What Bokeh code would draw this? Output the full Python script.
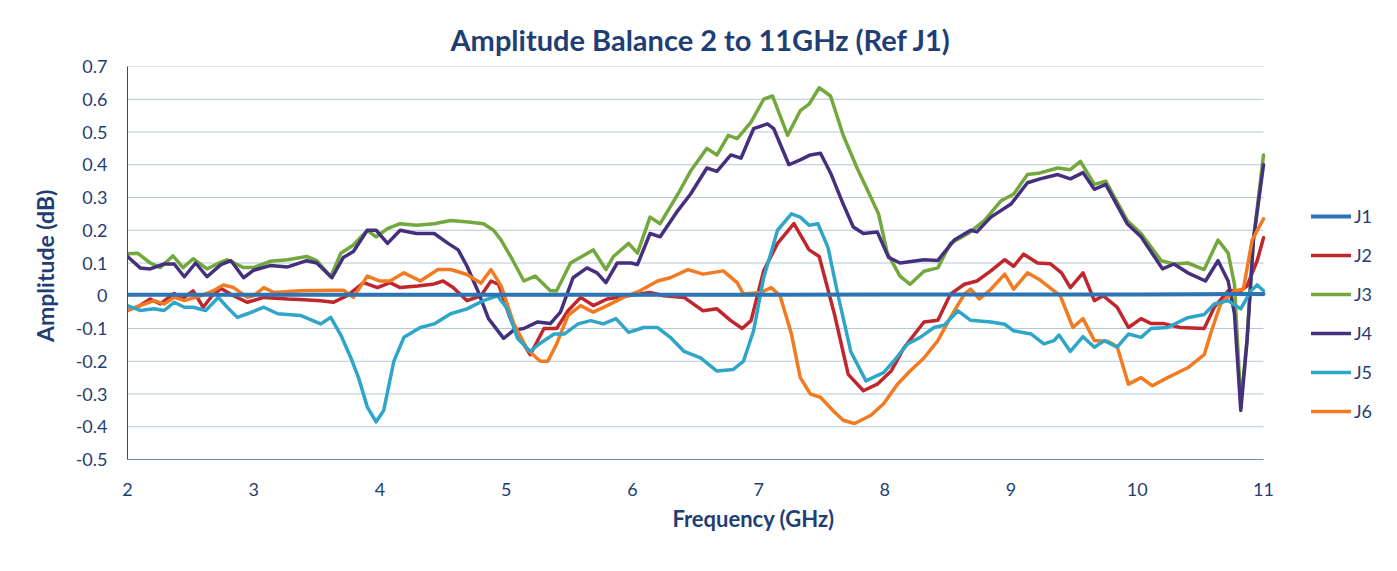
from bokeh.plotting import figure
from bokeh.models import Range1d, FixedTicker, CustomJSTickFormatter, Legend, LegendItem
from bokeh.embed import file_html
from bokeh.resources import INLINE

# ---------------- data ----------------
j1_f = [2.0, 3.0, 4.0, 5.0, 6.0, 7.0, 8.0, 9.0, 10.0, 10.8, 10.9, 11.0]
j1_v = [0.003, 0.003, 0.003, 0.003, 0.003, 0.003, 0.004, 0.004, 0.004, 0.005, 0.005, 0.005]

j2_f = [2.0, 2.1, 2.18, 2.26, 2.37, 2.43, 2.52, 2.6, 2.67, 2.74, 2.84, 2.95, 3.08, 3.27, 3.4, 3.53,
        3.63, 3.74, 3.87, 3.98, 4.08, 4.16, 4.3, 4.43, 4.5, 4.58, 4.69, 4.8, 4.88, 4.94, 5.03, 5.09,
        5.19, 5.3, 5.4, 5.49, 5.59, 5.69, 5.8, 5.96, 6.14, 6.25, 6.41, 6.56, 6.67, 6.78, 6.87, 6.94,
        7.04, 7.15, 7.28, 7.4, 7.48, 7.6, 7.71, 7.83, 7.94, 8.05, 8.15, 8.31, 8.42, 8.52, 8.63, 8.73,
        8.84, 8.95, 9.02, 9.1, 9.21, 9.31, 9.4, 9.47, 9.57, 9.66, 9.73, 9.84, 9.93, 10.03, 10.11,
        10.21, 10.34, 10.53, 10.61, 10.72, 10.82, 10.87, 10.95, 11.0]
j2_v = [-0.045, -0.03, -0.01, -0.025, 0.007, -0.01, 0.015, -0.035, 0.0, 0.022, 0.0, -0.02, -0.005,
        -0.01, -0.012, -0.015, -0.02, 0.0, 0.04, 0.025, 0.04, 0.025, 0.03, 0.036, 0.045, 0.025,
        -0.015, 0.0, 0.045, 0.035, -0.067, -0.117, -0.18, -0.1, -0.1, -0.046, -0.005, -0.03, -0.01,
        0.0, 0.01, 0.0, -0.005, -0.046, -0.04, -0.076, -0.1, -0.076, 0.076, 0.16, 0.22, 0.14, 0.12,
        -0.055, -0.24, -0.29, -0.27, -0.23, -0.16, -0.08, -0.075, 0.005, 0.035, 0.045, 0.076, 0.11,
        0.09, 0.127, 0.1, 0.098, 0.07, 0.025, 0.07, -0.015, 0.0, -0.035, -0.097, -0.07, -0.085,
        -0.085, -0.097, -0.1, -0.035, 0.015, 0.015, 0.03, 0.107, 0.177]

j3_f = [2.0, 2.08, 2.18, 2.26, 2.36, 2.44, 2.52, 2.63, 2.71, 2.79, 2.92, 3.0, 3.13, 3.27, 3.42, 3.5,
        3.61, 3.69, 3.79, 3.9, 3.97, 4.06, 4.16, 4.29, 4.43, 4.56, 4.7, 4.82, 4.9, 4.96, 5.05, 5.14,
        5.23, 5.35, 5.4, 5.51, 5.69, 5.79, 5.85, 5.97, 6.04, 6.14, 6.22, 6.36, 6.46, 6.59, 6.67, 6.76,
        6.83, 6.94, 7.04, 7.11, 7.23, 7.33, 7.4, 7.48, 7.57, 7.67, 7.78, 7.89, 7.95, 8.02, 8.12, 8.2,
        8.31, 8.42, 8.52, 8.66, 8.79, 8.92, 9.02, 9.13, 9.23, 9.37, 9.47, 9.55, 9.66, 9.75, 9.92,
        10.03, 10.19, 10.29, 10.4, 10.53, 10.64, 10.72, 10.77, 10.82, 10.87, 10.92, 11.0]
j3_v = [0.128, 0.13, 0.1, 0.086, 0.122, 0.086, 0.113, 0.082, 0.097, 0.11, 0.086, 0.086, 0.105, 0.11,
        0.12, 0.107, 0.058, 0.13, 0.155, 0.2, 0.18, 0.205, 0.22, 0.215, 0.22, 0.23, 0.225, 0.22, 0.2,
        0.17, 0.11, 0.045, 0.06, 0.015, 0.015, 0.1, 0.14, 0.08, 0.12, 0.16, 0.13, 0.24, 0.22, 0.31,
        0.38, 0.45, 0.43, 0.49, 0.48, 0.53, 0.6, 0.61, 0.49, 0.565, 0.585, 0.635, 0.61, 0.49, 0.39,
        0.3, 0.25, 0.13, 0.06, 0.035, 0.075, 0.085, 0.16, 0.19, 0.23, 0.29, 0.31, 0.37, 0.375, 0.39,
        0.385, 0.41, 0.34, 0.35, 0.23, 0.19, 0.107, 0.097, 0.1, 0.08, 0.17, 0.13, 0.035, -0.33,
        -0.13, 0.17, 0.43]

j4_f = [2.0, 2.1, 2.18, 2.29, 2.37, 2.45, 2.54, 2.63, 2.74, 2.82, 2.92, 3.0, 3.13, 3.27, 3.42, 3.5,
        3.62, 3.71, 3.79, 3.9, 3.97, 4.06, 4.16, 4.29, 4.43, 4.54, 4.62, 4.69, 4.77, 4.86, 4.98, 5.06,
        5.14, 5.25, 5.35, 5.43, 5.53, 5.64, 5.72, 5.79, 5.88, 5.99, 6.04, 6.14, 6.22, 6.36, 6.46, 6.59,
        6.67, 6.78, 6.86, 6.96, 7.07, 7.12, 7.24, 7.33, 7.41, 7.49, 7.57, 7.67, 7.75, 7.83, 7.94, 8.03,
        8.12, 8.31, 8.42, 8.55, 8.68, 8.73, 8.84, 9.0, 9.13, 9.23, 9.37, 9.47, 9.57, 9.66, 9.75, 9.92,
        10.03, 10.2, 10.29, 10.4, 10.54, 10.64, 10.72, 10.77, 10.82, 10.87, 10.92, 11.0]
j4_v = [0.12, 0.085, 0.082, 0.097, 0.097, 0.058, 0.1, 0.058, 0.095, 0.107, 0.055, 0.078, 0.092, 0.088,
        0.107, 0.1, 0.055, 0.117, 0.135, 0.2, 0.2, 0.16, 0.2, 0.19, 0.19, 0.16, 0.14, 0.09, 0.02, -0.07,
        -0.13, -0.105, -0.1, -0.08, -0.085, -0.05, 0.055, 0.085, 0.07, 0.04, 0.1, 0.1, 0.095, 0.19,
        0.18, 0.26, 0.31, 0.39, 0.38, 0.43, 0.42, 0.51, 0.525, 0.51, 0.4, 0.415, 0.43, 0.435, 0.375,
        0.28, 0.21, 0.19, 0.195, 0.117, 0.1, 0.11, 0.108, 0.17, 0.2, 0.195, 0.24, 0.28, 0.345, 0.357,
        0.37, 0.357, 0.376, 0.325, 0.34, 0.22, 0.18, 0.082, 0.097, 0.07, 0.045, 0.107, 0.045, -0.055,
        -0.35, -0.137, 0.17, 0.4]

j5_f = [2.0, 2.1, 2.21, 2.29, 2.37, 2.45, 2.52, 2.62, 2.72, 2.79, 2.87, 2.95, 3.08, 3.19, 3.37, 3.53,
        3.61, 3.69, 3.77, 3.83, 3.9, 3.97, 4.03, 4.11, 4.19, 4.32, 4.43, 4.56, 4.69, 4.82, 4.93, 5.01,
        5.09, 5.19, 5.27, 5.38, 5.46, 5.57, 5.67, 5.77, 5.87, 5.97, 6.09, 6.2, 6.3, 6.41, 6.54, 6.67,
        6.8, 6.88, 6.96, 7.04, 7.15, 7.26, 7.33, 7.4, 7.47, 7.55, 7.63, 7.73, 7.85, 7.99, 8.07, 8.18,
        8.28, 8.39, 8.47, 8.58, 8.68, 8.84, 8.95, 9.02, 9.16, 9.26, 9.34, 9.38, 9.47, 9.57, 9.66, 9.74,
        9.84, 9.93, 10.03, 10.11, 10.24, 10.4, 10.53, 10.61, 10.72, 10.82, 10.9, 10.95, 11.0]
j5_v = [-0.03, -0.045, -0.04, -0.045, -0.02, -0.035, -0.035, -0.045, -0.005, -0.035, -0.066, -0.055,
        -0.035, -0.055, -0.06, -0.086, -0.066, -0.12, -0.19, -0.25, -0.34, -0.385, -0.35, -0.2,
        -0.127, -0.097, -0.086, -0.055, -0.04, -0.015, 0.0, -0.04, -0.13, -0.17, -0.145, -0.117,
        -0.117, -0.086, -0.076, -0.086, -0.07, -0.112, -0.097, -0.097, -0.127, -0.17, -0.19, -0.23,
        -0.225, -0.2, -0.107, 0.055, 0.2, 0.25, 0.24, 0.215, 0.22, 0.147, 0.0, -0.17, -0.26, -0.235,
        -0.2, -0.147, -0.127, -0.097, -0.09, -0.046, -0.075, -0.08, -0.087, -0.107, -0.117, -0.147,
        -0.137, -0.12, -0.17, -0.125, -0.157, -0.137, -0.157, -0.117, -0.127, -0.1, -0.097, -0.067,
        -0.057, -0.025, -0.015, -0.04, 0.015, 0.033, 0.015]

j6_f = [2.0, 2.1, 2.21, 2.29, 2.37, 2.45, 2.58, 2.68, 2.76, 2.84, 2.95, 3.0, 3.08, 3.16, 3.37, 3.63,
        3.71, 3.79, 3.9, 4.0, 4.08, 4.19, 4.32, 4.46, 4.56, 4.69, 4.8, 4.88, 4.96, 5.06, 5.17, 5.27,
        5.33, 5.4, 5.49, 5.59, 5.69, 5.8, 5.93, 6.06, 6.2, 6.3, 6.44, 6.56, 6.72, 6.83, 6.88, 7.02,
        7.1, 7.17, 7.26, 7.33, 7.41, 7.49, 7.6, 7.67, 7.76, 7.89, 7.99, 8.1, 8.2, 8.31, 8.42, 8.52,
        8.63, 8.68, 8.75, 8.84, 8.95, 9.02, 9.13, 9.23, 9.34, 9.39, 9.49, 9.57, 9.66, 9.77, 9.84,
        9.93, 10.03, 10.12, 10.24, 10.4, 10.53, 10.58, 10.66, 10.77, 10.84, 10.91, 11.0]
j6_v = [-0.045, -0.03, -0.015, -0.025, -0.005, -0.015, 0.0, 0.015, 0.033, 0.025, -0.005, 0.0, 0.025,
        0.01, 0.015, 0.017, 0.017, -0.005, 0.06, 0.045, 0.045, 0.07, 0.045, 0.08, 0.08, 0.065, 0.038,
        0.08, 0.03, -0.085, -0.165, -0.2, -0.2, -0.147, -0.06, -0.03, -0.05, -0.03, -0.005, 0.015,
        0.045, 0.055, 0.08, 0.066, 0.076, 0.04, 0.005, 0.01, 0.025, 0.0, -0.117, -0.25, -0.3, -0.31,
        -0.355, -0.38, -0.39, -0.365, -0.33, -0.27, -0.23, -0.19, -0.137, -0.066, 0.005, 0.02, -0.01,
        0.02, 0.066, 0.02, 0.07, 0.048, 0.015, 0.0, -0.097, -0.07, -0.137, -0.14, -0.155, -0.27, -0.25,
        -0.275, -0.25, -0.22, -0.18, -0.117, -0.025, 0.015, 0.02, 0.17, 0.235]

series_names = ["J1", "J2", "J3", "J4", "J5", "J6"]
series_colors = ["#2E74B5", "#C0262D", "#72A83C", "#45307D", "#2FA6C8", "#F27B21"]
y_ticks = [-0.5, -0.4, -0.3, -0.2, -0.1, 0.0, 0.1, 0.2, 0.3, 0.4, 0.5, 0.6, 0.7]
x_ticks = [2, 3, 4, 5, 6, 7, 8, 9, 10, 11]
x_min, x_max = 2, 11
y_min, y_max = -0.5, 0.7

TEXT = "#1F3E74"
FONT = "Lato"

# layout: data area 1136 px wide for 2..11 GHz, extra room on the right for the legend
DATA_W = 1136
FRAME_W = 1252
x_end = x_min + (x_max - x_min) * FRAME_W / DATA_W

p = figure(frame_width=FRAME_W, frame_height=393, output_backend="svg", toolbar_location=None,
           x_range=Range1d(x_min, x_end), y_range=Range1d(y_min, y_max),
           min_border_left=127, min_border_right=10, min_border_top=66, min_border_bottom=104,
           title="Amplitude Balance 2 to 11GHz (Ref J1)")
p.background_fill_color = "white"
p.border_fill_color = "white"
p.outline_line_color = None

p.title.align = "left"
p.title.offset = 323
p.title.text_font = FONT
p.title.text_font_size = "29px"
p.title.text_font_style = "bold"
p.title.text_color = TEXT
p.title.standoff = 19

p.xgrid.grid_line_color = None
p.ygrid.grid_line_color = None
# horizontal grid lines limited to the data area (2..11 GHz)
p.segment(x0=[x_min] * len(y_ticks), x1=[x_max] * len(y_ticks), y0=y_ticks, y1=y_ticks,
          line_color="#B7C7D6", line_width=1)

p.yaxis.ticker = FixedTicker(ticks=y_ticks)
p.xaxis.ticker = FixedTicker(ticks=x_ticks)
p.xaxis.bounds = (x_min, x_max)
p.yaxis.formatter = CustomJSTickFormatter(code="""
    const t = Math.round(tick * 10) / 10;
    return t === 0 ? '0' : t.toFixed(1);
""")
for ax in (p.xaxis[0], p.yaxis[0]):
    ax.major_tick_line_color = None
    ax.minor_tick_line_color = None
    ax.major_label_text_font = FONT
    ax.major_label_text_font_size = "18px"
    ax.major_label_text_color = TEXT
    ax.axis_label_text_font = FONT
    ax.axis_label_text_font_style = "bold"
    ax.axis_label_text_color = TEXT
p.xaxis.axis_label_text_font_size = "22px"
p.yaxis.axis_label_text_font_size = "23px"
p.yaxis.axis_line_color = "#2B4C7E"
p.xaxis.axis_line_color = "#6F93B8"
p.yaxis.major_label_standoff = 14
p.xaxis.major_label_standoff = 17
p.yaxis.axis_label = "Amplitude  (dB)"
p.xaxis.axis_label = "Frequency (GHz)"
p.yaxis.axis_label_standoff = 14
p.xaxis.axis_label_standoff = 6

data = [(j1_f, j1_v), (j2_f, j2_v), (j3_f, j3_v), (j4_f, j4_v), (j5_f, j5_v), (j6_f, j6_v)]
renderers = {}
draw_order = [1, 2, 3, 5, 4, 0]
for i in draw_order:
    f, v = data[i]
    w = 4 if i == 0 else 3.5
    renderers[i] = p.line(f, v, line_color=series_colors[i], line_width=w,
                          line_join="round", line_cap="round")

items = [LegendItem(label=series_names[i], renderers=[renderers[i]]) for i in range(6)]
legend = Legend(items=items, location=(1184, 37))
legend.border_line_color = None
legend.background_fill_alpha = 0
legend.padding = 0
legend.margin = 0
legend.spacing = 17
legend.glyph_width = 40
legend.glyph_height = 20
legend.label_height = 20
legend.label_standoff = 3
legend.label_text_font = FONT
legend.label_text_font_size = "18px"
legend.label_text_color = TEXT
p.add_layout(legend, "center")

open("out.html", "w").write(file_html(p, INLINE))
